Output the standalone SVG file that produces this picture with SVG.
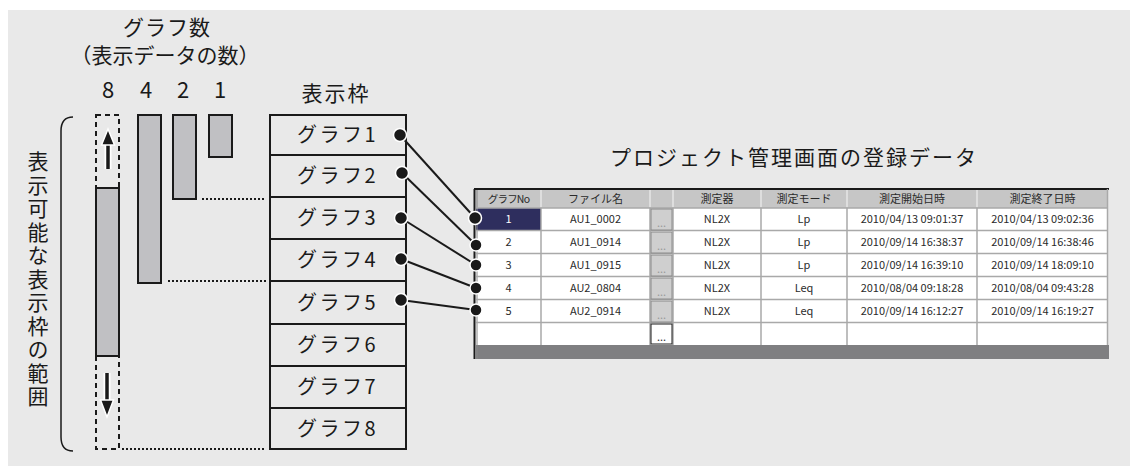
<svg xmlns="http://www.w3.org/2000/svg" width="1130" height="466" viewBox="0 0 1130 466">
<style>
.jp{font-family:"Noto Sans CJK JP","Noto Sans",sans-serif;fill:#1a1a1a}
.big{font-size:21px}
.box{fill:#e9e9e9;stroke:#1a1a1a;stroke-width:2}
.bar{fill:#c0c0c3;stroke:#1a1a1a;stroke-width:2}
.dot{fill:#1a1a1a;stroke:#fff;stroke-width:1.5}
.dotted{stroke:#1a1a1a;stroke-width:2;stroke-dasharray:2 2;fill:none}
.tb{font-family:"Noto Sans CJK JP","Noto Sans",sans-serif;font-size:11px;fill:#2a2a2a;text-anchor:middle}
.grid{stroke:#a9a9a9;stroke-width:1.5}
.btn{fill:#cfcfcf;stroke:#8a8a8a;stroke-width:1}
.conn{stroke:#1a1a1a;stroke-width:2;fill:none}
</style>
<rect x="8" y="10" width="1122" height="456" fill="#e9e9e9"/>

<g id="labels-top">
<text class="jp big" text-anchor="middle"><tspan x="167" y="35" letter-spacing="1">グラフ数</tspan><tspan x="165" y="63">（表示データの数）</tspan></text>
<text class="jp" font-size="22" x="108" y="98" text-anchor="middle">8</text>
<text class="jp" font-size="22" x="146" y="98" text-anchor="middle">4</text>
<text class="jp" font-size="22" x="183" y="98" text-anchor="middle">2</text>
<text class="jp" font-size="22" x="220" y="98" text-anchor="middle">1</text>
<text class="jp big" x="336" y="101" text-anchor="middle" letter-spacing="2">表示枠</text>
</g>

<g id="range-label">
<path d="M73 117 Q61 117 61 131 L61 437 Q61 451 73 451" fill="none" stroke="#1a1a1a" stroke-width="1.5"/>
<text class="jp" font-size="21" x="38" y="151" writing-mode="tb" letter-spacing="2.5">表示可能な表示枠の範囲</text>
</g>

<g id="bar8">
<rect x="96" y="115" width="23" height="334" fill="none" stroke="#1a1a1a" stroke-width="2" stroke-dasharray="5 4"/>
<rect class="bar" x="96" y="188" width="23" height="168"/>
<line x1="108" y1="169" x2="108" y2="143" stroke="#fff" stroke-width="7"/>
<line x1="108" y1="169" x2="108" y2="143" stroke="#1a1a1a" stroke-width="3.5"/>
<polygon points="108,129 101.5,145 114.5,145" fill="#1a1a1a" stroke="#fff" stroke-width="1.5"/>
<line x1="107" y1="373" x2="107" y2="401" stroke="#fff" stroke-width="7"/>
<line x1="107" y1="373" x2="107" y2="401" stroke="#1a1a1a" stroke-width="3.5"/>
<polygon points="107,417 100.5,400 113.5,400" fill="#1a1a1a" stroke="#fff" stroke-width="1.5"/>
</g>
<g id="bar4"><rect class="bar" x="138" y="115" width="23" height="168"/></g>
<g id="bar2"><rect class="bar" x="173" y="115" width="23" height="84"/></g>
<g id="bar1"><rect class="bar" x="209" y="115" width="23" height="42"/></g>

<g id="frames">
<rect class="box" x="270" y="115" width="136" height="334"/>
<g stroke="#1a1a1a" stroke-width="2">
<line x1="270" y1="155" x2="406" y2="155"/>
<line x1="270" y1="197" x2="406" y2="197"/>
<line x1="270" y1="239" x2="406" y2="239"/>
<line x1="270" y1="281" x2="406" y2="281"/>
<line x1="270" y1="324" x2="406" y2="324"/>
<line x1="270" y1="366" x2="406" y2="366"/>
<line x1="270" y1="408" x2="406" y2="408"/>
</g>
<g class="jp" font-size="20" letter-spacing="2.5">
<text x="297" y="142">グラフ1</text>
<text x="297" y="183">グラフ2</text>
<text x="297" y="225">グラフ3</text>
<text x="297" y="267">グラフ4</text>
<text x="297" y="310">グラフ5</text>
<text x="297" y="352">グラフ6</text>
<text x="297" y="394">グラフ7</text>
<text x="297" y="436">グラフ8</text>
</g>
</g>

<g id="dotted-guides">
<line class="dotted" x1="202" y1="199" x2="266" y2="199"/>
<line class="dotted" x1="168" y1="281" x2="268" y2="281"/>
<line class="dotted" x1="122" y1="449" x2="266" y2="449"/>
</g>

<g id="title">
<text class="jp" font-size="21" x="610" y="165" letter-spacing="2">プロジェクト管理画面の登録データ</text>
</g>

<g id="table">
<rect x="476" y="190" width="632" height="18" fill="#c6c6c6"/>
<rect x="476" y="208" width="632" height="137" fill="#fff"/>
<rect x="476" y="345" width="633" height="14" fill="#7f7f81"/>
<rect x="476" y="208" width="65" height="22" fill="#2e2e5e"/>
<line x1="474" y1="189" x2="1109" y2="189" stroke="#1a1a1a" stroke-width="2"/>
<line x1="474.5" y1="189" x2="474.5" y2="359" stroke="#1a1a1a" stroke-width="2"/>
<line x1="477" y1="190" x2="477" y2="359" stroke="#888" stroke-width="1"/>
<g stroke="#e6e6e6" stroke-width="1.5">
<line x1="541" y1="190" x2="541" y2="207"/>
<line x1="650" y1="190" x2="650" y2="207"/>
<line x1="673" y1="190" x2="673" y2="207"/>
<line x1="761" y1="190" x2="761" y2="207"/>
<line x1="847" y1="190" x2="847" y2="207"/>
<line x1="977" y1="190" x2="977" y2="207"/>
</g>
<g class="grid">
<line x1="476" y1="208" x2="1108" y2="208"/>
<line x1="476" y1="230.5" x2="1108" y2="230.5"/>
<line x1="476" y1="253.5" x2="1108" y2="253.5"/>
<line x1="476" y1="276.5" x2="1108" y2="276.5"/>
<line x1="476" y1="299.5" x2="1108" y2="299.5"/>
<line x1="476" y1="322.5" x2="1108" y2="322.5"/>
<line x1="541" y1="208" x2="541" y2="345"/>
<line x1="650" y1="208" x2="650" y2="345"/>
<line x1="673" y1="208" x2="673" y2="345"/>
<line x1="761" y1="208" x2="761" y2="345"/>
<line x1="847" y1="208" x2="847" y2="345"/>
<line x1="977" y1="208" x2="977" y2="345"/>
<line x1="1107.5" y1="189" x2="1107.5" y2="345"/>
</g>
<g>
<rect class="btn" x="651" y="209" width="21" height="21"/>
<rect class="btn" x="651" y="232" width="21" height="21"/>
<rect class="btn" x="651" y="255" width="21" height="21"/>
<rect class="btn" x="651" y="278" width="21" height="21"/>
<rect class="btn" x="651" y="301" width="21" height="21"/>
<rect x="651" y="324" width="21" height="20" fill="#fff" stroke="#1a1a1a" stroke-width="1"/>
<g class="tb" font-size="9">
<text x="661.5" y="227" fill="#9a9a9a">...</text>
<text x="661.5" y="250" fill="#9a9a9a">...</text>
<text x="661.5" y="273" fill="#9a9a9a">...</text>
<text x="661.5" y="296" fill="#9a9a9a">...</text>
<text x="661.5" y="319" fill="#9a9a9a">...</text>
<text x="661.5" y="341" fill="#333">...</text>
</g>
</g>
<g class="tb">
<text x="508.5" y="203" font-size="10.5" letter-spacing="-0.8">グラフNo</text>
<text x="595.5" y="203">ファイル名</text>
<text x="717" y="203">測定器</text>
<text x="804" y="203">測定モード</text>
<text x="912" y="203">測定開始日時</text>
<text x="1042.5" y="203">測定終了日時</text>

<text x="508.5" y="223" fill="#fff">1</text>
<text x="595.5" y="223">AU1_0002</text>
<text x="717" y="223">NL2X</text>
<text x="804" y="223">Lp</text>
<text x="912" y="223">2010/04/13 09:01:37</text>
<text x="1042.5" y="223">2010/04/13 09:02:36</text>

<text x="508.5" y="246">2</text>
<text x="595.5" y="246">AU1_0914</text>
<text x="717" y="246">NL2X</text>
<text x="804" y="246">Lp</text>
<text x="912" y="246">2010/09/14 16:38:37</text>
<text x="1042.5" y="246">2010/09/14 16:38:46</text>

<text x="508.5" y="269">3</text>
<text x="595.5" y="269">AU1_0915</text>
<text x="717" y="269">NL2X</text>
<text x="804" y="269">Lp</text>
<text x="912" y="269">2010/09/14 16:39:10</text>
<text x="1042.5" y="269">2010/09/14 18:09:10</text>

<text x="508.5" y="292">4</text>
<text x="595.5" y="292">AU2_0804</text>
<text x="717" y="292">NL2X</text>
<text x="804" y="292">Leq</text>
<text x="912" y="292">2010/08/04 09:18:28</text>
<text x="1042.5" y="292">2010/08/04 09:43:28</text>

<text x="508.5" y="315">5</text>
<text x="595.5" y="315">AU2_0914</text>
<text x="717" y="315">NL2X</text>
<text x="804" y="315">Leq</text>
<text x="912" y="315">2010/09/14 16:12:27</text>
<text x="1042.5" y="315">2010/09/14 16:19:27</text>
</g>
</g>

<g id="connectors">
<line class="conn" x1="400" y1="135" x2="475" y2="218"/>
<line class="conn" x1="402" y1="173" x2="476" y2="245"/>
<line class="conn" x1="401" y1="218" x2="476" y2="265"/>
<line class="conn" x1="401" y1="259" x2="476" y2="288"/>
<line class="conn" x1="401" y1="300" x2="476" y2="310"/>
<circle class="dot" cx="400" cy="135" r="6.5"/>
<circle class="dot" cx="402" cy="173" r="6.5"/>
<circle class="dot" cx="401" cy="218" r="6.5"/>
<circle class="dot" cx="401" cy="259" r="6.5"/>
<circle class="dot" cx="401" cy="300" r="6.5"/>
<circle class="dot" cx="475" cy="218" r="6.5"/>
<circle class="dot" cx="476" cy="245" r="6"/>
<circle class="dot" cx="476" cy="265" r="6"/>
<circle class="dot" cx="476" cy="288" r="6"/>
<circle class="dot" cx="476" cy="310" r="6"/>
</g>
</svg>
